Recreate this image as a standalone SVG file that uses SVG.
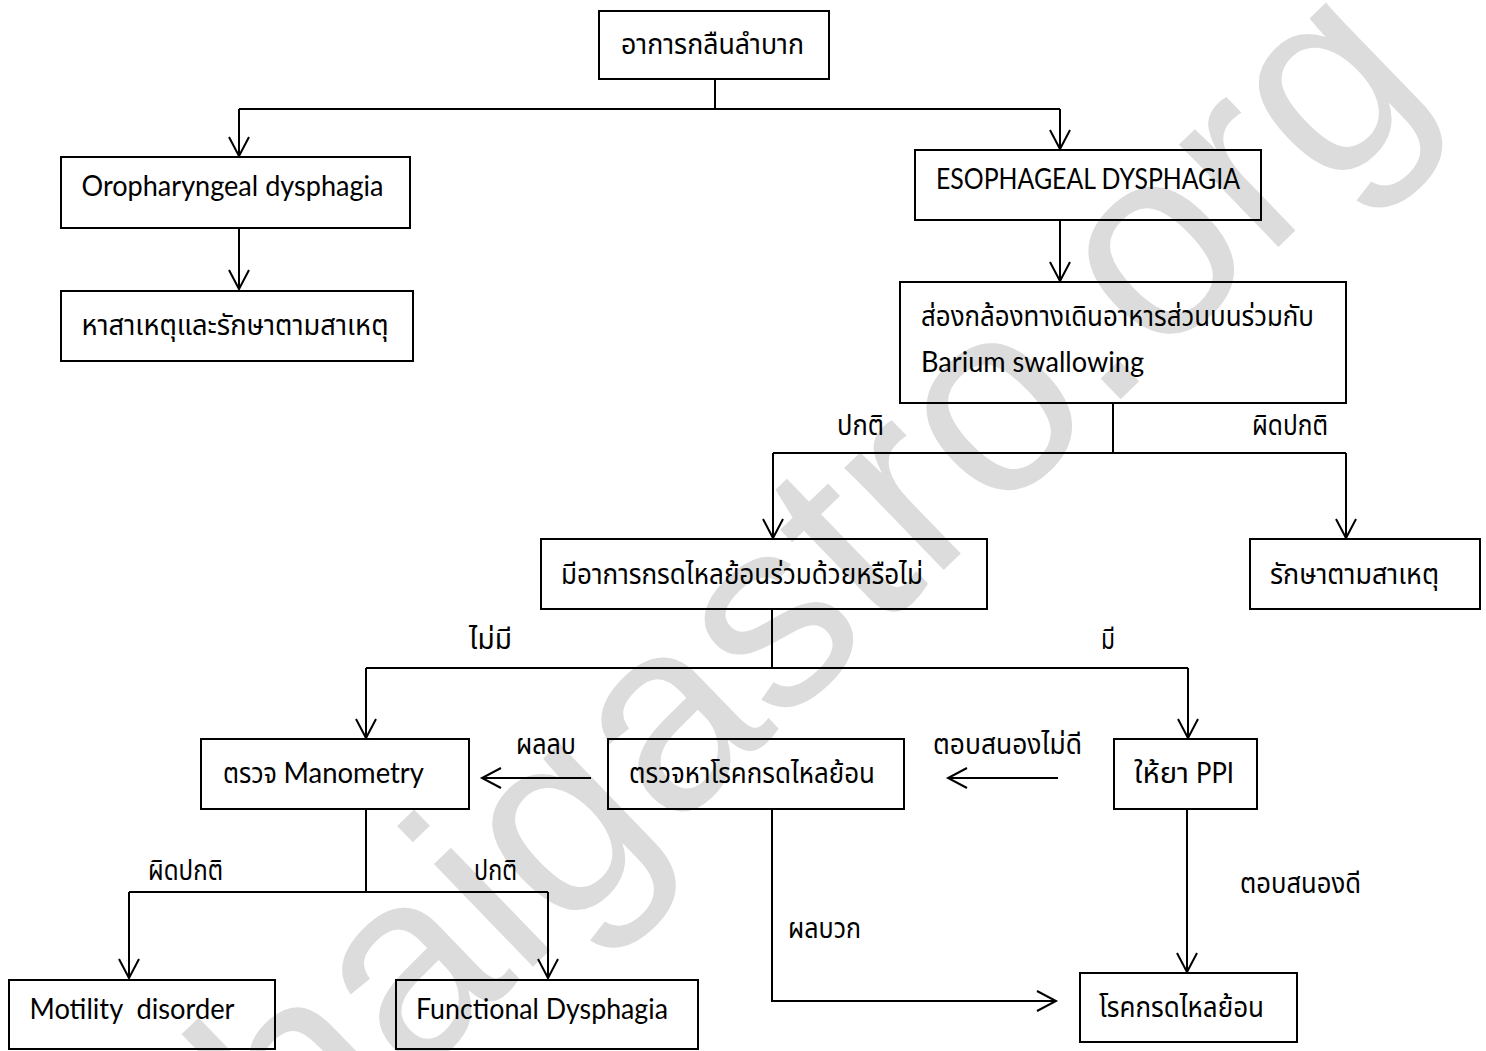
<svg xmlns="http://www.w3.org/2000/svg" width="1486" height="1051" viewBox="0 0 1486 1051">
<style>
.box{fill:none;stroke:#000;stroke-width:2}
.ln{fill:none;stroke:#000;stroke-width:2}
.th{font-family:"Noto Sans Thai","Noto Sans","DejaVu Sans",sans-serif;font-size:28px;fill:#000}
.en{font-family:Lato,"Open Sans","Liberation Sans",sans-serif;font-size:28px;fill:#000}
.wm{font-family:"Liberation Sans",Arial,sans-serif;font-size:270px;fill:#dcdcdc}
</style>
<defs>
<marker id="ah" markerUnits="userSpaceOnUse" markerWidth="24" markerHeight="24" refX="0" refY="0" orient="auto" overflow="visible">
<path d="M-19,-10 L0,0 L-19,10" fill="none" stroke="#000" stroke-width="2"/>
</marker>
</defs>
<rect width="1486" height="1051" fill="#fff"/>
<text class="wm" x="250" y="1240" transform="rotate(-44 250 1240)">thaigastro.org</text>

<g id="connectors">
<path class="ln" d="M715,79 V109"/>
<path class="ln" d="M239,109 H1060"/>
<path class="ln" d="M239,109 V156" marker-end="url(#ah)"/>
<path class="ln" d="M1060,109 V149" marker-end="url(#ah)"/>
<path class="ln" d="M239,228 V289" marker-end="url(#ah)"/>
<path class="ln" d="M1060,220 V281" marker-end="url(#ah)"/>
<path class="ln" d="M1113,403 V453"/>
<path class="ln" d="M773,453 H1346"/>
<path class="ln" d="M773,453 V538" marker-end="url(#ah)"/>
<path class="ln" d="M1346,453 V538" marker-end="url(#ah)"/>
<path class="ln" d="M772,609 V668"/>
<path class="ln" d="M366,668 H1188"/>
<path class="ln" d="M366,668 V738" marker-end="url(#ah)"/>
<path class="ln" d="M1188,668 V738" marker-end="url(#ah)"/>
<path class="ln" d="M591,778 H482" marker-end="url(#ah)"/>
<path class="ln" d="M1058,778 H948" marker-end="url(#ah)"/>
<path class="ln" d="M366,809 V892"/>
<path class="ln" d="M129,892 H548"/>
<path class="ln" d="M129,892 V978" marker-end="url(#ah)"/>
<path class="ln" d="M548,892 V978" marker-end="url(#ah)"/>
<path class="ln" d="M772,809 V1001 H1056" marker-end="url(#ah)"/>
<path class="ln" d="M1187,809 V972" marker-end="url(#ah)"/>
<text class="th" x="837" y="435" textLength="47" lengthAdjust="spacingAndGlyphs">ปกติ</text>
<text class="th" x="1252" y="435" textLength="76" lengthAdjust="spacingAndGlyphs">ผิดปกติ</text>
<text class="th" x="469" y="649" textLength="43" lengthAdjust="spacingAndGlyphs">ไม่มี</text>
<text class="th" x="1101" y="649" textLength="14" lengthAdjust="spacingAndGlyphs">มี</text>
<text class="th" x="516" y="754" textLength="60" lengthAdjust="spacingAndGlyphs">ผลลบ</text>
<text class="th" x="933" y="754" textLength="149" lengthAdjust="spacingAndGlyphs">ตอบสนองไม่ดี</text>
<text class="th" x="148" y="880" textLength="75" lengthAdjust="spacingAndGlyphs">ผิดปกติ</text>
<text class="th" x="474" y="880" textLength="43" lengthAdjust="spacingAndGlyphs">ปกติ</text>
<text class="th" x="788" y="938" textLength="73" lengthAdjust="spacingAndGlyphs">ผลบวก</text>
<text class="th" x="1240" y="893" textLength="121" lengthAdjust="spacingAndGlyphs">ตอบสนองดี</text>
</g>

<g id="n-start"><rect class="box" x="599" y="11" width="230" height="68"/><text class="th" x="621" y="54" textLength="183" lengthAdjust="spacingAndGlyphs">อาการกลืนลำบาก</text></g>
<g id="n-oro"><rect class="box" x="61" y="157" width="349" height="71"/><text class="en" x="81.5" y="196" textLength="302" lengthAdjust="spacingAndGlyphs">Oropharyngeal dysphagia</text></g>
<g id="n-cause"><rect class="box" x="61" y="291" width="352" height="70"/><text class="th" x="81.5" y="335" textLength="307" lengthAdjust="spacingAndGlyphs">หาสาเหตุและรักษาตามสาเหตุ</text></g>
<g id="n-eso"><rect class="box" x="915" y="150" width="346" height="70"/><text class="en" x="936" y="189" textLength="304" lengthAdjust="spacingAndGlyphs">ESOPHAGEAL DYSPHAGIA</text></g>
<g id="n-endo"><rect class="box" x="900" y="282" width="446" height="121"/><text class="th" x="921" y="326" textLength="393" lengthAdjust="spacingAndGlyphs">ส่องกล้องทางเดินอาหารส่วนบนร่วมกับ</text><text class="en" x="921" y="372" textLength="223" lengthAdjust="spacingAndGlyphs">Barium swallowing</text></g>
<g id="n-acid"><rect class="box" x="541" y="539" width="446" height="70"/><text class="th" x="561" y="584" textLength="362" lengthAdjust="spacingAndGlyphs">มีอาการกรดไหลย้อนร่วมด้วยหรือไม่</text></g>
<g id="n-treat"><rect class="box" x="1250" y="539" width="230" height="70"/><text class="th" x="1270" y="584" textLength="169" lengthAdjust="spacingAndGlyphs">รักษาตามสาเหตุ</text></g>
<g id="n-mano"><rect class="box" x="201" y="739" width="268" height="70"/><text class="th" x="223" y="783" textLength="54" lengthAdjust="spacingAndGlyphs">ตรวจ</text><text class="en" x="283.5" y="783" textLength="140.5" lengthAdjust="spacingAndGlyphs">Manometry</text></g>
<g id="n-test"><rect class="box" x="608" y="739" width="296" height="70"/><text class="th" x="629" y="783" textLength="246" lengthAdjust="spacingAndGlyphs">ตรวจหาโรคกรดไหลย้อน</text></g>
<g id="n-ppi"><rect class="box" x="1114" y="739" width="143" height="70"/><text class="th" x="1134" y="783" textLength="55" lengthAdjust="spacingAndGlyphs">ให้ยา</text><text class="en" x="1196" y="783" textLength="38" lengthAdjust="spacingAndGlyphs">PPI</text></g>
<g id="n-motility"><rect class="box" x="9" y="980" width="266" height="69"/><text class="en" x="29.5" y="1019" textLength="205" lengthAdjust="spacingAndGlyphs" xml:space="preserve">Motility  disorder</text></g>
<g id="n-functional"><rect class="box" x="396" y="980" width="302" height="69"/><text class="en" x="416" y="1019" textLength="252" lengthAdjust="spacingAndGlyphs">Functional Dysphagia</text></g>
<g id="n-gerd"><rect class="box" x="1080" y="973" width="217" height="69"/><text class="th" x="1099" y="1017" textLength="165" lengthAdjust="spacingAndGlyphs">โรคกรดไหลย้อน</text></g>
</svg>
